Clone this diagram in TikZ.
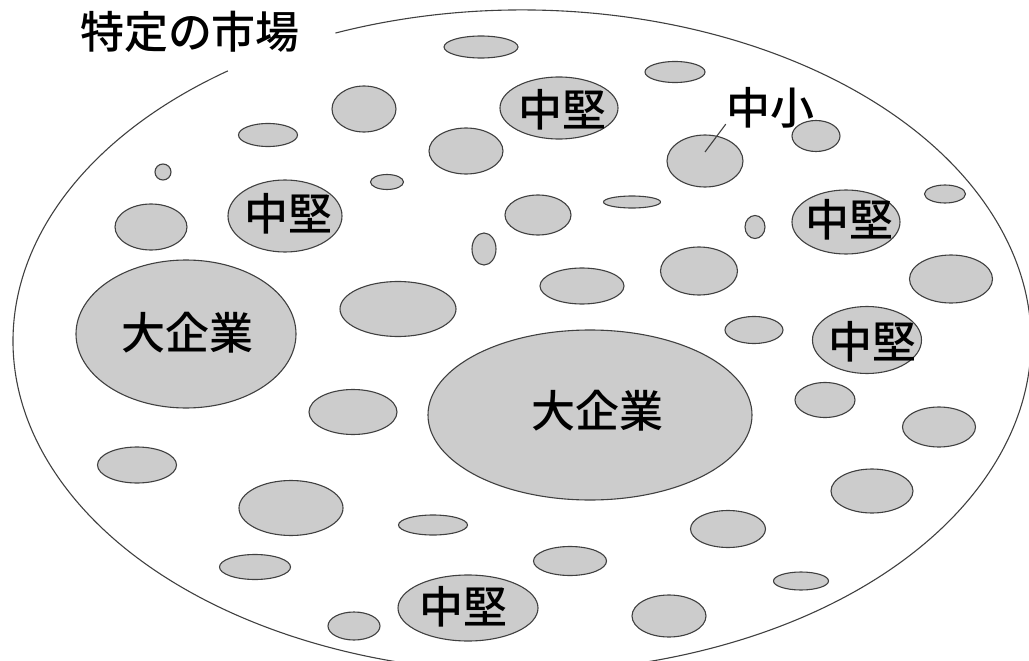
\documentclass[tikz,border=0pt]{standalone}
\usepackage{fontspec}
\newfontfamily\jpfont{Noto Sans CJK JP}[BoldFont={Noto Sans CJK JP Medium}]
\tikzset{
  market/.style={draw=black!75, line width=1.1pt},
  blob/.style={draw=black!75, fill=black!20, line width=1.1pt},
  firmlabel/.style={font=\jpfont\bfseries\fontsize{44}{44}\selectfont, inner sep=0pt}
}
\begin{document}
\begin{tikzpicture}[x=1pt,y=-1pt]
        \useasboundingbox (0,0) rectangle (1029,661);
        % Outer market ellipse, open where the title sits
        \draw[market] (522,341) ++(-111.5:509 and 331) arc[start angle=-111.5, end angle=234.7, x radius=509, y radius=331];
        \node[firmlabel] (title) at (190,32) {特定の市場};

        % Large firms
        \draw[blob] (186,334) ellipse [x radius=110, y radius=74];
        \node[firmlabel] (daiL) at (187,333) {大企業};
        \draw[blob] (590,415) ellipse [x radius=162, y radius=85];
        \node[firmlabel] (daiC) at (597,411) {大企業};

        % Mid-size firms
        \draw[blob] (559,108) ellipse [x radius=59, y radius=31];
        \node[firmlabel] (chukenA) at (562,110) {中堅};
        \draw[blob] (285,216) ellipse [x radius=57, y radius=36];
        \node[firmlabel] (chukenB) at (288,214) {中堅};
        \draw[blob] (846,222) ellipse [x radius=54, y radius=32];
        \node[firmlabel] (chukenC) at (849,220) {中堅};
        \draw[blob] (867,340) ellipse [x radius=54.5, y radius=33.5];
        \node[firmlabel] (chukenD) at (872,342) {中堅};
        \draw[blob] (468,608) ellipse [x radius=70, y radius=33];
        \node[firmlabel] (chukenE) at (463,607) {中堅};

        % Small firms, with the one that carries the label
        \draw[blob] (705,161) ellipse [x radius=38, y radius=26];
        \node[firmlabel] (chusho) at (770,108) {中小};
        \coordinate (chushoTip) at (705,152);
        \draw[market] (chusho.200) -- (chushoTip);

        % Remaining small firms, top to bottom
        \draw[blob] (481,47) ellipse [x radius=37, y radius=11];
        \draw[blob] (675,72) ellipse [x radius=30, y radius=10.5];
        \draw[blob] (364,109) ellipse [x radius=32, y radius=23];
        \draw[blob] (268,135) ellipse [x radius=29.5, y radius=11.5];
        \draw[blob] (466,151) ellipse [x radius=37, y radius=23];
        \draw[blob] (816,136) ellipse [x radius=24, y radius=15.5];
        \draw[blob] (163,172) ellipse [x radius=8, y radius=8];
        \draw[blob] (387,182) ellipse [x radius=16.5, y radius=7.5];
        \draw[blob] (151,227) ellipse [x radius=36, y radius=23];
        \draw[blob] (538,215) ellipse [x radius=33, y radius=20];
        \draw[blob] (632,202) ellipse [x radius=28.5, y radius=6];
        \draw[blob] (755,227) ellipse [x radius=10, y radius=11.5];
        \draw[blob] (945,194) ellipse [x radius=20.5, y radius=9];
        \draw[blob] (484,249) ellipse [x radius=12, y radius=16];
        \draw[blob] (398,309) ellipse [x radius=58, y radius=27.5];
        \draw[blob] (582,286) ellipse [x radius=42, y radius=18];
        \draw[blob] (699,271) ellipse [x radius=38.5, y radius=24];
        \draw[blob] (951,279) ellipse [x radius=41.5, y radius=24];
        \draw[blob] (754,330) ellipse [x radius=29, y radius=13.5];
        \draw[blob] (353,412) ellipse [x radius=44, y radius=22.5];
        \draw[blob] (825,400) ellipse [x radius=30, y radius=17.5];
        \draw[blob] (939,427) ellipse [x radius=36.5, y radius=20];
        \draw[blob] (137,465) ellipse [x radius=39.5, y radius=18];
        \draw[blob] (872,491) ellipse [x radius=41, y radius=22];
        \draw[blob] (291,508) ellipse [x radius=52, y radius=27.5];
        \draw[blob] (433,525) ellipse [x radius=34.5, y radius=10];
        \draw[blob] (728,529) ellipse [x radius=37.5, y radius=18.5];
        \draw[blob] (570,561) ellipse [x radius=36.5, y radius=14.5];
        \draw[blob] (255,567) ellipse [x radius=35.5, y radius=12.5];
        \draw[blob] (801,581) ellipse [x radius=27.5, y radius=9];
        \draw[blob] (669,616) ellipse [x radius=37, y radius=21];
        \draw[blob] (354,626) ellipse [x radius=26, y radius=14];
\end{tikzpicture}
\end{document}
